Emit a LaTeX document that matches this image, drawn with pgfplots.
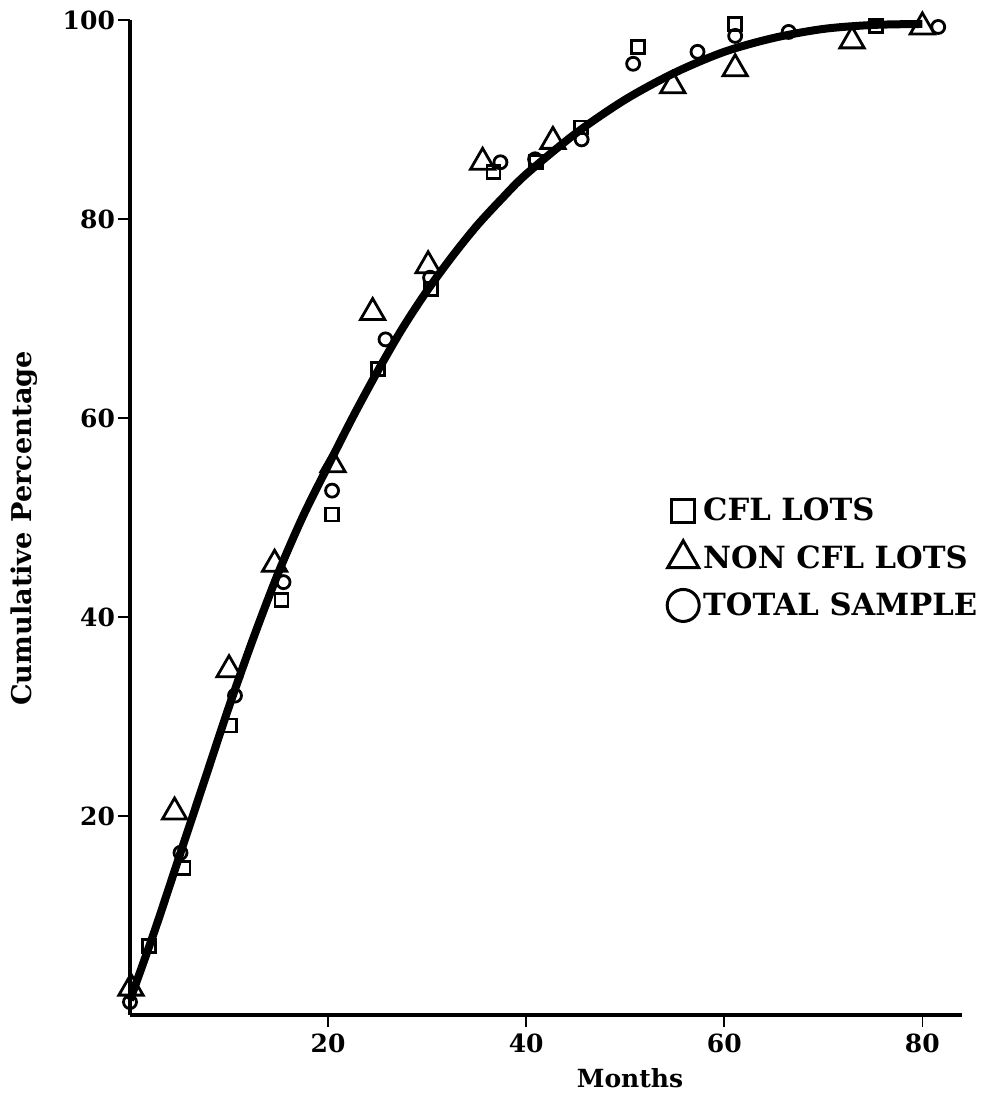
\documentclass[border=0pt]{standalone}
\usepackage{fontspec}
\setmainfont{DejaVu Serif}
\usepackage{pgfplots}
\pgfplotsset{compat=1.18}
\begin{document}
\begin{tikzpicture}
\useasboundingbox (0,0) rectangle (490.5pt,551pt);
\begin{axis}[
  at={(65pt,43.5pt)}, anchor=south west,
  scale only axis, width=416pt, height=497.5pt,
  xmin=0, xmax=84, ymin=0, ymax=100,
  axis lines=left,
  axis line style={-, line width=2pt},
  xtick={20,40,60,80}, ytick={20,40,60,80,100},
  tick align=outside,
  major tick length=6pt,
  tick style={line width=0.8pt, black},
  /pgf/number format/assume math mode=true,
  ticklabel style={font=\fontsize{12.5}{14}\selectfont\bfseries},
  yticklabel style={xshift=2pt},
  xlabel={Months},
  xlabel style={font=\fontsize{12.5}{14}\selectfont\bfseries, at={(axis description cs:0.601,-0.063)}, anchor=center},
  ylabel={Cumulative Percentage},
  ylabel style={font=\fontsize{13.6}{15}\selectfont\bfseries, at={(axis description cs:-0.127,0.489)}, anchor=center, rotate=0},
  clip=false,
  legend style={at={(axis description cs:0.638,0.528)}, anchor=north west, draw=none, fill=none,
    font=\fontsize{15.3}{17}\selectfont\bfseries, row sep=6.5pt},
  legend cell align=left,
]
% fitted curve
\addplot[line width=4pt, black, smooth, forget plot] coordinates {
(0,1.5) (2.5,8.5) (5,16) (7.5,23.5) (10,31) (12.5,38) (15,44.5) (17.5,50.2)
(20,55.2) (22.5,60.1) (25,64.7) (27.5,69) (30,72.8) (32.5,76.2) (35,79.3)
(37.5,82) (40,84.5) (45,88.6) (50,92) (55,94.7) (60,96.8) (65,98.2)
(70,99.1) (75,99.5) (80,99.6)};
% CFL lots
\addplot[only marks, mark=square, mark size=3.25pt, line width=1.4pt, black, fill=white, forget plot] coordinates {
(1.9,6.9) (5.4,14.8) (10.1,29.1) (15.3,41.7) (20.4,50.3) (25.0,64.9) (30.4,73.0)
(36.7,84.7) (41.0,85.7) (45.5,89.2) (51.3,97.3) (61.1,99.6) (75.3,99.4)};
% Non CFL lots
\addplot[only marks, mark=triangle, mark size=7pt, line width=1.4pt, black, forget plot] coordinates {
(0.1,2.7) (4.5,20.4) (10.0,34.7) (14.6,45.3) (20.5,55.3) (24.5,70.6) (30.1,75.3)
(35.6,85.7) (42.7,87.8) (54.8,93.4) (61.1,95.1) (72.9,97.9) (80.0,99.3)};
% Total sample
\addplot[only marks, mark=o, mark size=3.25pt, line width=1.4pt, black, forget plot] coordinates {
(0.0,1.3) (5.1,16.3) (10.6,32.1) (15.5,43.5) (20.4,52.7) (25.8,67.9) (30.3,74.1)
(37.4,85.7) (40.9,86.0) (45.6,88.0) (50.8,95.6) (57.3,96.8) (61.1,98.4) (66.5,98.8) (81.6,99.3)};
\addlegendimage{only marks, mark=square, mark size=5.75pt, line width=1.5pt, black}
\addlegendentry{CFL LOTS}
\addlegendimage{only marks, mark=triangle, mark size=9pt, line width=1.5pt, black}
\addlegendentry{NON CFL LOTS}
\addlegendimage{only marks, mark=o, mark size=8pt, line width=1.5pt, black}
\addlegendentry{TOTAL SAMPLE}
\end{axis}
\end{tikzpicture}
\end{document}
